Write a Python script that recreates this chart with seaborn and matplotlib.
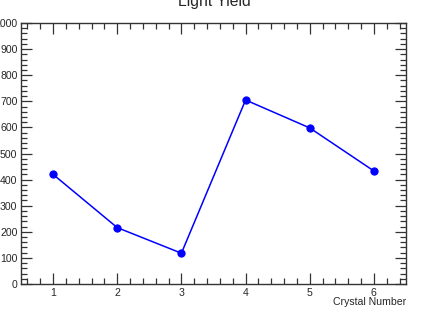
import matplotlib
matplotlib.use("Agg")
import matplotlib.pyplot as plt
from matplotlib.ticker import MultipleLocator
import seaborn as sns
import pandas as pd

crystal = [1, 2, 3, 4, 5, 6]
light_yield = [420, 216, 118, 705, 598, 433]

sns.set_style("ticks")
plt.rcParams["font.family"] = ["Liberation Sans", "DejaVu Sans"]

df = pd.DataFrame({"Crystal Number": crystal, "Light Yield": light_yield})

W, H = 436, 333
fig = plt.figure(figsize=(W / 100, H / 100), dpi=100)
ax = fig.add_axes([21 / W, 1 - 284 / H, (406 - 21) / W, (284 - 23) / H])

sns.lineplot(data=df, x="Crystal Number", y="Light Yield", ax=ax,
             color="#0000ff", linewidth=1.1, marker="o", markersize=5.2,
             markeredgecolor="#0000ff", markerfacecolor="#0000ff")

ax.set_xlim(0.5, 6.5)
ax.set_ylim(0, 1000)
ax.xaxis.set_major_locator(MultipleLocator(1))
ax.xaxis.set_minor_locator(MultipleLocator(0.2))
ax.yaxis.set_major_locator(MultipleLocator(100))
ax.yaxis.set_minor_locator(MultipleLocator(20))

ax.tick_params(which="both", direction="in", top=True, right=True,
               color="#333333", width=0.9, labelsize=7.6, pad=2.6)
ax.tick_params(which="major", length=8)
ax.tick_params(which="minor", length=4)
for s in ax.spines.values():
    s.set_color("#333333")
    s.set_linewidth(1.0)

ax.set_ylabel("")
ax.set_xlabel("Crystal Number", fontsize=7.6)
ax.xaxis.set_label_coords(1.0, -0.05)
ax.xaxis.label.set_horizontalalignment("right")
ax.xaxis.label.set_verticalalignment("top")

fig.text(214 / W, 1 - 6 / H, "Light Yield", ha="center", va="baseline",
         fontsize=11.3)

fig.savefig("out.png", dpi=100, facecolor="white")
